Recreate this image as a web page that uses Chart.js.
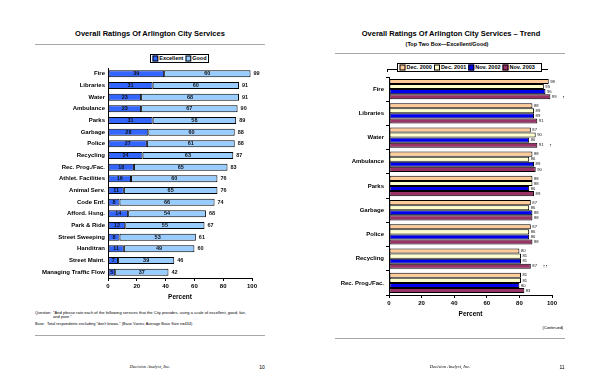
<!DOCTYPE html>
<html>
<head>
<meta charset="utf-8">
<script src="https://cdn.jsdelivr.net/npm/chart.js@4.4.1/dist/chart.umd.min.js"></script>
<style>
  html, body { margin: 0; padding: 0; background: #fff; }
  body { width: 600px; height: 388px; position: relative; overflow: hidden; font-family: 'Liberation Sans', Arial, sans-serif; color: #000; }
  .abs { position: absolute; white-space: nowrap; }
  .c { transform: translate(-50%, -50%); }
  .title { font-weight: bold; font-size: 7.5px; }
  .rule { position: absolute; height: 1px; background: #a8a8a8; }
  .tiny { position: absolute; white-space: nowrap; transform-origin: 0 0; }
  .legend { position: absolute; z-index: 5; transform-origin: 0 0; transform: scale(0.25); border: 4px solid #000; background: #fff; font-size: 22px; font-weight: bold; display: flex; align-items: center; padding: 0 6px; box-sizing: border-box; white-space: nowrap; }
  .sw { display: inline-block; width: 16px; height: 16px; border: 4px solid #000; margin: 0 4px 0 8px; box-sizing: content-box; }
  canvas { position: absolute; }
</style>
</head>
<body>
<script>
// ---------- Data ----------
const serviceCategories = ['Fire','Libraries','Water','Ambulance','Parks','Garbage','Police','Recycling','Rec. Prog./Fac.','Athlet. Facilities','Animal Serv.','Code Enf.','Afford. Hsng.','Park & Ride','Street Sweeping','Handitran','Street Maint.','Managing Traffic Flow'];
const excellentValues = [39,31,23,23,31,28,27,24,18,16,11,8,14,12,8,11,7,5];
const goodValues = [60,60,68,67,58,60,61,63,65,60,65,66,54,55,53,49,39,37];
const totalLabels = [99,91,91,90,89,88,88,87,83,76,76,74,68,67,61,60,46,42];
const percentTicks = [0,20,40,60,80,100];

const trendCategories = ['Fire','Libraries','Water','Ambulance','Parks','Garbage','Police','Recycling','Rec. Prog./Fac.'];
const dec2000 = [98,88,87,88,88,87,87,80,81];
const dec2001 = [95,89,90,86,88,86,86,81,81];
const nov2002 = [96,89,86,89,86,88,86,81,80];
const nov2003 = [99,91,91,90,89,88,88,87,83];
const trendMarks = ['\u2191','','\u2191','','','','','\u2191\u2191',''];
</script>

<!-- Left page -->
<div class="abs c title" style="left:150px; top:33px;">Overall Ratings Of Arlington City Services</div>
<div class="rule" style="left:35px; top:44px; width:230px;"></div>
<div class="legend" style="left:150px; top:54px; width:236px; height:36px;">
  <span class="sw" style="background:#3366ff;margin-left:0"></span>Excellent<span class="sw" style="background:#99ccff;"></span>Good
</div>
<div class="rule" style="left:35px; top:335px; width:230px;"></div>

<!-- Right page -->
<div class="abs c title" style="left:451px; top:33px;">Overall Ratings Of Arlington City Services – Trend</div>
<div class="rule" style="left:335px; top:53px; width:230px;"></div>
<div class="abs" style="left:387px; top:69px; width:161px; height:1px; background:#000;"></div>
<div class="abs" style="left:387px; top:69px; width:1px; height:3px; background:#000;"></div>
<div class="legend" style="left:397px; top:63px; width:580px; height:36px;">
  <span class="sw" style="background:#ffcc99;margin-left:0"></span>Dec. 2000<span class="sw" style="background:#ffffcc;"></span>Dec. 2001<span class="sw" style="background:#0000ee;"></span>Nov. 2002<span class="sw" style="background:#993366;"></span>Nov. 2003
</div>
<div class="rule" style="left:335px; top:338px; width:230px;"></div>

<canvas id="left" width="280" height="250" style="left:0px; top:60px;"></canvas>
<canvas id="right" width="290" height="260" style="left:300px; top:70px;"></canvas>

<script>
// small text helper (scaled so tiny sizes are honoured)
const S = 0.25;
function tiny(text, x, y, size, opts = {}) {
  const d = document.createElement('div');
  d.className = 'tiny';
  d.textContent = text;
  d.style.left = x + 'px';
  d.style.top = y + 'px';
  d.style.fontSize = (size / S) + 'px';
  if (opts.bold) d.style.fontWeight = 'bold';
  if (opts.italic) d.style.fontStyle = 'italic';
  if (opts.family) d.style.fontFamily = opts.family;
  if (opts.width) { d.style.width = (opts.width / S) + 'px'; d.style.whiteSpace = 'normal'; d.style.lineHeight = (opts.lh / S) + 'px'; }
  const tx = opts.align === 'left' ? '0' : opts.align === 'right' ? '-100%' : '-50%';
  const ty = opts.top ? '0' : '-50%';
  d.style.transform = `scale(${S}) translate(${tx}, ${ty})`;
  document.body.appendChild(d);
}
const SERIF = "'Liberation Serif', 'Times New Roman', serif";
tiny('(Top Two Box—Excellent/Good)', 447, 44, 5.5, { bold: true });
tiny('Question:', 35, 309.5, 3.8, { align: 'left', top: true });
tiny('"And please rate each of the following services that the City provides, using a scale of excellent, good, fair, and poor."', 53, 309.5, 4.1, { align: 'left', top: true, width: 200, lh: 4.6 });
tiny('Base:', 35, 321, 3.8, { align: 'left', top: true });
tiny('Total respondents excluding "don\'t knows." (Base Varies; Average Base Size n=434)', 47, 321, 3.9, { align: 'left', top: true });
tiny('Decision Analyst, Inc.', 150, 367, 4.6, { italic: true, family: SERIF });
tiny('10', 262, 367, 5);
tiny('(Continued)', 553, 328, 4);
tiny('Decision Analyst, Inc.', 450, 367, 4.6, { italic: true, family: SERIF });
tiny('11', 562, 367, 5);

const FONT = "'Liberation Sans', Arial, sans-serif";
Chart.defaults.font.family = FONT;
Chart.defaults.color = '#000';

const leftLabels = {
  id: 'leftLabels',
  afterDatasetsDraw(chart) {
    const ctx = chart.ctx;
    ctx.save();
    ctx.font = 'bold 5.5px ' + FONT;
    ctx.fillStyle = '#111';
    ctx.textBaseline = 'middle';
    ctx.textAlign = 'center';
    chart.data.datasets.forEach((ds, di) => {
      chart.getDatasetMeta(di).data.forEach((bar, i) => {
        ctx.fillText(String(ds.data[i]), (bar.x + bar.base) / 2, bar.y);
      });
    });
    ctx.textAlign = 'left';
    chart.getDatasetMeta(1).data.forEach((bar, i) => {
      ctx.fillText(String(totalLabels[i]), bar.x + 3, bar.y);
    });
    ctx.restore();
  }
};

new Chart(document.getElementById('left'), {
  type: 'bar',
  data: {
    labels: serviceCategories,
    datasets: [
      { label: 'Excellent', data: excellentValues, backgroundColor: '#3366ff', borderColor: '#000', borderWidth: 1, borderSkipped: false },
      { label: 'Good', data: goodValues, backgroundColor: '#99ccff', borderColor: '#000', borderWidth: 1, borderSkipped: false }
    ]
  },
  options: {
    indexAxis: 'y',
    responsive: false,
    animation: false,
    layout: { padding: { top: 8, right: 28, bottom: 6, left: 0 } },
    datasets: { bar: { categoryPercentage: 1, barPercentage: 0.6 } },
    plugins: { legend: { display: false }, tooltip: { enabled: false } },
    scales: {
      x: {
        stacked: true, min: 0, max: 100,
        afterBuildTicks: s => { s.ticks = percentTicks.map(v => ({ value: v })); },
        ticks: { font: { size: 6, weight: 'bold' }, padding: 2, color: '#000' },
        grid: { display: true, drawOnChartArea: false, drawTicks: true, tickLength: 3, color: '#000' },
        border: { display: true, color: '#000', width: 1 },
        title: { display: true, text: 'Percent', font: { size: 6.5, weight: 'bold' }, padding: { top: 0, bottom: 3 }, color: '#000' },
        afterFit: s => { s.height = 26; }
      },
      y: {
        stacked: true,
        ticks: { font: { size: 6, weight: 'bold' }, padding: 3, color: '#000', autoSkip: false },
        grid: { display: false, drawTicks: false },
        border: { display: true, color: '#000', width: 1 },
        afterFit: s => { s.width = 108; }
      }
    }
  },
  plugins: [leftLabels]
});

const rightLabels = {
  id: 'rightLabels',
  afterDatasetsDraw(chart) {
    const ctx = chart.ctx;
    ctx.save();
    ctx.fillStyle = '#111';
    ctx.textBaseline = 'middle';
    ctx.textAlign = 'left';
    chart.data.datasets.forEach((ds, di) => {
      chart.getDatasetMeta(di).data.forEach((bar, i) => {
        ctx.font = '4.2px ' + FONT;
        ctx.fillText(String(ds.data[i]), bar.x + 1.5, bar.y);
        if (di === 3 && trendMarks[i]) {
          ctx.font = '5px ' + FONT;
          ctx.fillText(trendMarks[i], bar.x + 12, bar.y + 0.5);
        }
      });
    });
    ctx.restore();
  }
};

new Chart(document.getElementById('right'), {
  type: 'bar',
  data: {
    labels: trendCategories,
    datasets: [
      { label: 'Dec. 2000', data: dec2000, backgroundColor: '#ffcc99', borderColor: '#000', borderWidth: 1, borderSkipped: false },
      { label: 'Dec. 2001', data: dec2001, backgroundColor: '#ffffcc', borderColor: '#000', borderWidth: 1, borderSkipped: false },
      { label: 'Nov. 2002', data: nov2002, backgroundColor: '#0000ee', borderColor: '#000', borderWidth: 1, borderSkipped: false },
      { label: 'Nov. 2003', data: nov2003, backgroundColor: '#993366', borderColor: '#000', borderWidth: 1, borderSkipped: false }
    ]
  },
  options: {
    indexAxis: 'y',
    responsive: false,
    animation: false,
    layout: { padding: { top: 7, right: 38, bottom: 7, left: 0 } },
    datasets: { bar: { categoryPercentage: 0.84, barPercentage: 1 } },
    plugins: { legend: { display: false }, tooltip: { enabled: false } },
    scales: {
      x: {
        min: 0, max: 100,
        afterBuildTicks: s => { s.ticks = percentTicks.map(v => ({ value: v })); },
        ticks: { font: { size: 6, weight: 'bold' }, padding: 2, color: '#000' },
        grid: { display: true, drawOnChartArea: false, drawTicks: true, tickLength: 3, color: '#000' },
        border: { display: true, color: '#000', width: 1 },
        title: { display: true, text: 'Percent', font: { size: 6.5, weight: 'bold' }, padding: { top: 0, bottom: 5 }, color: '#000' },
        afterFit: s => { s.height = 28; }
      },
      y: {
        ticks: { font: { size: 6, weight: 'bold' }, padding: 2, color: '#000', autoSkip: false },
        grid: { display: true, drawOnChartArea: false, drawTicks: true, tickLength: 3, offset: true, color: '#000' },
        border: { display: true, color: '#000', width: 1 },
        afterFit: s => { s.width = 89; }
      }
    }
  },
  plugins: [rightLabels]
});
</script>
</body>
</html>
